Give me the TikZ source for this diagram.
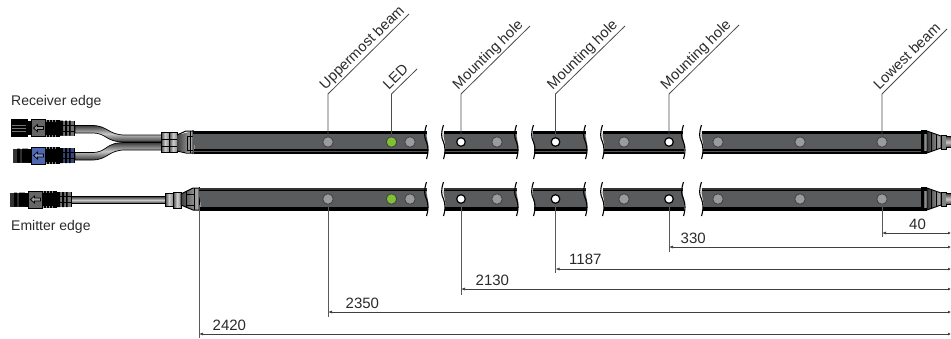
\documentclass[tikz,border=0pt]{standalone}
\usepackage{fontspec}
\setmainfont{Liberation Sans}
\usetikzlibrary{arrows.meta,calc}
\definecolor{txt}{HTML}{2A2A2A}
\definecolor{barg}{HTML}{5A5B5D}
\definecolor{beamg}{HTML}{9A9B9E}
\definecolor{ledg}{HTML}{7FC034}
\definecolor{blu}{HTML}{4F66B0}
\definecolor{cabl}{HTML}{C8C8C8}
\definecolor{cabd}{HTML}{3A3A3A}
\tikzset{
  lbl/.style={font=\fontsize{14}{16}\selectfont,text=txt,inner sep=0pt},
  rlbl/.style={font=\fontsize{14.6}{16}\selectfont,text=txt,inner sep=0pt,text depth=3pt,anchor=south west,rotate=44.6},
  num/.style={font=\fontsize{15}{17}\selectfont,text=txt,inner sep=0pt,anchor=base west},
  beam/.style={circle,draw=black!75,line width=0.8pt,fill=beamg,minimum size=10.5pt,inner sep=0pt},
  led/.style={beam,fill=ledg},
  hole/.style={beam,fill=white,draw=black,line width=1.2pt,minimum size=8.6pt},
  leader/.style={draw=black!70,line width=0.8pt},
  dimln/.style={draw=black!75,line width=0.7pt,{Latex[length=4pt,width=3pt]}-{Latex[length=3pt,width=3pt]}},
  ext/.style={draw=black!65,line width=0.8pt},
  cable/.style={top color=cabd,bottom color=cabd,middle color=cabl,draw=black,line width=0.7pt},
  metal/.style={left color=black!75,right color=black!45,middle color=black!20,draw=black,line width=0.7pt},
  brk/.style={draw=black,line width=1.1pt},
}
% body of a bar segment
\newcommand{\barbody}[3]{%
  \path[fill=barg,yshift=-#3pt] (#1,0) .. controls (#1-2,7) and (#1+3,12) .. (#1+1,22) -- (#2+1,22) .. controls (#2+3,12) and (#2-2,7) .. (#2,0) -- cycle;}
% receiver row segment
\newcommand{\barseg}[3]{%
  \barbody{#1}{#2}{#3}%
  \begin{scope}[yshift=-#3pt]
  \path[fill=black] (#1,0) rectangle (#2,3);
  \path[fill=black] (#1+1,18.2) rectangle (#2+1,19.8);
  \path[fill=black] (#1+1,21) rectangle (#2+1,23);
  \end{scope}}
% emitter row segment
\newcommand{\barsegE}[3]{%
  \barbody{#1}{#2}{#3}%
  \begin{scope}[yshift=-#3pt]
  \path[fill=black!80] (#1,0) rectangle (#2,2);
  \path[fill=black] (#1,2) rectangle (#2,3.4);
  \path[fill=black] (#1+1,19) rectangle (#2+1,22.6);
  \end{scope}}
% break marks around a gap
\newcommand{\brkr}[2]{\draw[brk,yshift=-#2pt] (#1-0.5,-6) .. controls (#1-3,2) and (#1-3,6) .. (#1-0.5,11) .. controls (#1+1.5,16) and (#1+1.5,22) .. (#1-0.5,28);}
\newcommand{\brkgap}[3]{\brkr{#1}{#3}\brkr{#2}{#3}}
% connector
\newcommand{\conn}[6]{% x0 yc arrow body ridge kind
  \begin{scope}[xshift=#1pt,yshift=-#2pt]
    \ifnum#6=1
      \fill[black] (0,-9.5) rectangle (17,9);
      \draw[black!55,line width=0.5pt] (1,-3) -- (15,-3) (1,0) -- (15,0) (1,3) -- (15,3);
    \else
      \fill[black!80] (2,-7) rectangle (20,7);
      \fill[black] (6,-7) rectangle (9,7) (11,-7) rectangle (17,7);
      \fill[black!45] (17,-7) rectangle (20,7);
    \fi
    \fill[black] (17,-7) rectangle (20,7);
    \fill[#4] (20,-8.5) rectangle (34,8.5);
    \draw[black,line width=0.4pt] (20,-8.5) rectangle (34,8.5);
    \draw[black,line width=0.7pt,fill=#3] (22.5,0) -- (26.5,-3.5) -- (26.5,-1.5) -- (32.5,-1.5) -- (32.5,1.5) -- (26.5,1.5) -- (26.5,3.5) -- cycle;
    \fill[black] (34,-8.5) rectangle (49,8.5);
    \foreach \q in {35.5,38.5,41.5,44.5}{\draw[black!45,line width=0.3pt] (\q,-8.5) -- (\q,-6.5) (\q,6.5) -- (\q,8.5);}
    \fill[#5] (49,-7.5) rectangle (64,7.5);
    \fill[black] (49,-7.5) rectangle (52,7.5) (54,-7.5) rectangle (56,7.5) (58,-7.5) rectangle (59.5,7.5);
    \draw[black,line width=0.6pt] (63.5,-7.5) -- (63.5,7.5);
    \draw[black,line width=0.6pt] (49,-3) -- (64,-3) (49,3) -- (64,3);
  \end{scope}}
% right end cap
\newcommand{\rcap}[1]{%
  \begin{scope}[yshift=-#1pt]
   \fill[black] (921,-12) rectangle (927,12);
   \path[left color=black!70,right color=black!35,middle color=black!20,draw=black,line width=0.9pt] (923,-9) rectangle (931,9);
   \path[left color=black!80,right color=black!30,draw=black,line width=0.9pt] (927,-11) -- (941,-6) -- (941,6) -- (927,11) -- cycle;
   \draw[black,line width=0.7pt] (931,-9) -- (931,9) (936,-7) -- (936,7);
   \path[fill=black!50,draw=black,line width=0.9pt] (941,-7) rectangle (946,7);
   \path[top color=black!75,bottom color=black!75,middle color=black!20] (946,-5.5) rectangle (951,5.5);
   \draw[black,line width=.7pt] (946,-5.5) -- (951,-5.5) (946,5.5) -- (951,5.5);
  \end{scope}}
\begin{document}
\begin{tikzpicture}[x=1pt,y=-1pt]
\useasboundingbox (0,0) rectangle (951,338);

% --- cables
\path[cable] (75,125.5) -- (92,125.5) .. controls (108,125.5) and (108,135) .. (125,135) -- (162,135) -- (162,142) -- (125,142) .. controls (104,142) and (108,133) .. (92,133) -- (75,133) -- cycle;
\path[cable] (75,152.5) -- (92,152.5) .. controls (108,152.5) and (104,142.5) .. (125,142.5) -- (162,142.5) -- (162,150) -- (125,150) .. controls (108,150) and (108,160) .. (92,160) -- (75,160) -- cycle;
\path[cable] (71,196.5) rectangle (166,203.5);

% --- connectors
\conn{11}{128}{black!40}{black!60}{black!55}{1}
\conn{11}{155.5}{blu!70!white}{blu}{blu!70!black}{2}
\conn{8}{199.5}{black!40}{black!60}{black!55}{2}

% --- receiver housing
\path[metal] (161,132) rectangle (169,152);
\path[metal] (169,132) rectangle (177,152);
\draw[black,line width=.8pt] (161,139) -- (177,139) (161,146) -- (177,146);
\path[left color=black!75,right color=black!30] (177,135) -- (193,131) -- (193,153) -- (177,151) -- cycle;
\draw[black,line width=1pt] (177,135) -- (186,131) -- (193,131) (177,151) -- (186,153) -- (193,153) (193,130) -- (193,154);
\draw[black,line width=.7pt] (187,136) -- (187,150) (190,131) -- (190,153) (187,136) -- (193,136) (187,150) -- (193,150);

% --- emitter housing
\path[metal] (165,193.5) rectangle (173,206);
\path[metal] (173,192) rectangle (181,208);
\path[left color=black!75,right color=black!30,draw=black,line width=1pt] (181,194) -- (193,188) -- (199,188) -- (199,210) -- (193,210) -- (181,205) -- cycle;
\draw[black,line width=.7pt] (186,191) -- (186,208) (194,188) -- (194,210) (199,187) -- (199,211) (186,194) -- (194,194) (186,205) -- (194,205);

% --- bars
\barseg{193}{427}{131}
\barseg{444}{517}{131}
\barseg{533}{586}{131}
\barseg{603}{683}{131}
\barseg{702}{922}{131}
\barsegE{199}{427}{188}
\barsegE{444}{517}{188}
\barsegE{533}{586}{188}
\barsegE{603}{683}{188}
\barsegE{702}{922}{188}
\brkgap{427}{444}{131}\brkgap{517}{534}{131}\brkgap{586}{603}{131}\brkgap{684}{702}{131}
\brkgap{427}{444}{188}\brkgap{517}{534}{188}\brkgap{586}{603}{188}\brkgap{684}{702}{188}

\rcap{142}
\rcap{199}

% --- leader corners and ends
\foreach \n/\x/\ex/\ey in {a/328/409/14,b/391.5/417/69,c/461/530/26,d/555.5/625/26,e/669/739/25,f/882/947/29}{
  \coordinate (k\n) at (\x,94);
  \coordinate (t\n) at (\ex,\ey);
}

% --- beams, holes, LED: receiver row
\node[beam] (ra) at (328,142) {};
\node[led]  (rb) at (391.5,142) {};
\node[beam] (r2) at (410,142) {};
\node[hole] (rc) at (461,142) {};
\node[beam] (r3) at (497,142) {};
\node[hole] (rd) at (555.5,142) {};
\node[beam] (r4) at (624,142) {};
\node[hole] (re) at (669,142) {};
\node[beam] (r5) at (718,142) {};
\node[beam] (r6) at (800,142) {};
\node[beam] (rf) at (882,142) {};
% emitter row
\node[beam] (ea) at (328,199) {};
\node[led]  (eb) at (391.5,199) {};
\node[beam] (e2) at (410,199) {};
\node[hole] (ec) at (461,199) {};
\node[beam] (e3) at (497,199) {};
\node[hole] (ed) at (555.5,199) {};
\node[beam] (e4) at (624,199) {};
\node[hole] (ee) at (669,199) {};
\node[beam] (e5) at (718,199) {};
\node[beam] (e6) at (800,199) {};
\node[beam] (ef) at (882,199) {};

% --- leaders
\foreach \n in {a,b,c,d,e,f}{\draw[leader] (r\n.north) -- (k\n) -- (t\n);}

% --- labels along leaders
\node[rlbl] (la) at ($(ka)+(-0.5,-1.5)$) {Uppermost beam};
\node[rlbl] (lb) at ($(kb)+(-0.5,-1.5)$) {LED};
\node[rlbl] (lc) at ($(kc)+(-0.5,-1.5)$) {Mounting hole};
\node[rlbl] (ld) at ($(kd)+(-0.5,-1.5)$) {Mounting hole};
\node[rlbl] (le) at ($(ke)+(-0.5,-1.5)$) {Mounting hole};
\node[rlbl] (lf) at ($(kf)+(-0.5,-1.5)$) {Lowest beam};

\node[lbl,anchor=west] (recv) at (11,101.5) {Receiver edge};
\node[lbl,anchor=west] (emit) at (11,227) {Emitter edge};

% --- dimensions
\coordinate (c0) at (199,205);
\foreach \n/\y in {f/233,e/247,d/269,c/289,a/312,z/334}{
  \coordinate (d\n) at (951,\y);
}
\coordinate (xz) at (199,334);
\coordinate (xa) at (328,312);
\coordinate (xc) at (461,289);
\coordinate (xd) at (555.5,269);
\coordinate (xe) at (669,247);
\coordinate (xf) at (882,233);

\draw[ext] (c0) -- (199,338);
\draw[ext] (ea.south) -- (328,317);
\draw[ext] (ec.south) -- (461,295);
\draw[ext] (ed.south) -- (555.5,273);
\draw[ext] (ee.south) -- (669,252);
\draw[ext] (ef.south) -- (882,237);

\draw[dimln] (xz) -- (dz);
\draw[dimln] (xa) -- (da);
\draw[dimln] (xc) -- (dc);
\draw[dimln] (xd) -- (dd);
\draw[dimln] (xe) -- (de);
\draw[dimln] (xf) -- (df);

\node[num] (n40) at (909,229) {40};
\node[num] (n330) at (680.5,243) {330};
\node[num] (n1187) at (569,264) {1187};
\node[num] (n2130) at (475.5,285) {2130};
\node[num] (n2350) at (345.5,308) {2350};
\node[num] (n2420) at (212.5,330) {2420};
\end{tikzpicture}
\end{document}
